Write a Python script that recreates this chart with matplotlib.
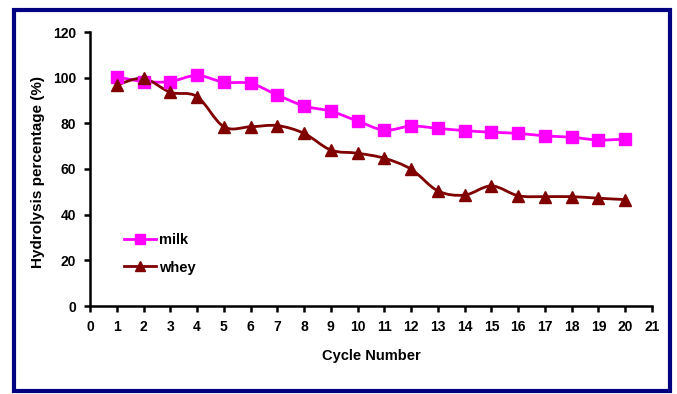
import matplotlib
matplotlib.use('Agg')
import matplotlib.pyplot as plt
from matplotlib.path import Path
from matplotlib.patches import PathPatch, Rectangle
from matplotlib.lines import Line2D
import numpy as np

cycles = list(range(1, 21))
milk = [100.4, 98.3, 98.3, 101.0, 98.0, 97.5, 92.4, 87.6, 85.3, 81.0,
        77.0, 78.8, 77.8, 76.8, 76.1, 75.6, 74.5, 73.9, 72.7, 73.1]
whey = [96.8, 99.7, 93.6, 91.7, 78.5, 78.5, 79.0, 75.6, 68.3, 66.9,
        64.7, 59.9, 50.4, 48.6, 52.6, 48.3, 47.9, 47.9, 47.2, 46.6]

x_ticks = list(range(0, 22))
y_ticks = [0, 20, 40, 60, 80, 100, 120]

fam = ['Liberation Sans', 'DejaVu Sans']


def smooth_path(xs, ys):
    # excel style smoothed line: bezier segments through the points
    pts = np.column_stack([np.asarray(xs, float), np.asarray(ys, float)])
    n = len(pts)
    verts = [pts[0]]
    codes = [Path.MOVETO]
    for i in range(n - 1):
        p0 = pts[max(i - 1, 0)]
        p1 = pts[i]
        p2 = pts[i + 1]
        p3 = pts[min(i + 2, n - 1)]
        verts += [p1 + (p2 - p0) / 6.0, p2 - (p3 - p1) / 6.0, p2]
        codes += [Path.CURVE4] * 3
    return Path(verts, codes)


fig = plt.figure(figsize=(6.77, 3.94), dpi=100)
ax = fig.add_axes([90 / 677, 1 - 306 / 394, 562 / 677, 274 / 394])

series = [(milk, '#FF00FF', 's', 'milk'), (whey, '#800000', '^', 'whey')]
handles = []
for vals, col, mk, name in series:
    ax.add_patch(PathPatch(smooth_path(cycles, vals), facecolor='none',
                           edgecolor=col, lw=2, zorder=2))
    ax.plot(cycles, vals, ls='none', marker=mk, ms=8, color=col,
            markeredgecolor=col, zorder=3)
    handles.append(Line2D([], [], color=col, lw=2, marker=mk, ms=6.5,
                          markeredgecolor=col, label=name))

ax.set_xlim(0, 21)
ax.set_ylim(0, 120)
ax.set_xticks(x_ticks)
ax.set_yticks(y_ticks)
ax.spines['top'].set_visible(False)
ax.spines['right'].set_visible(False)
for s in ['left', 'bottom']:
    ax.spines[s].set_linewidth(1.8)
ax.tick_params(direction='out', length=4, width=1.8, pad=6)
for lab in ax.get_xticklabels() + ax.get_yticklabels():
    lab.set_fontfamily(fam)
    lab.set_fontweight('bold')
    lab.set_fontsize(10)

ax.set_xlabel('Cycle Number', fontsize=10.5, fontweight='bold',
              family=fam, labelpad=11)
ax.set_ylabel('Hydrolysis percentage (%)', fontsize=11, fontweight='bold',
              family=fam, labelpad=18)
ax.yaxis.set_label_coords(-45 / 562, 0.49)

ax.legend(handles=handles, loc='center left',
          bbox_to_anchor=(0.05, 0.19), frameon=False,
          handlelength=2.2, handletextpad=0.2, labelspacing=0.9,
          borderaxespad=0,
          prop={'family': fam, 'weight': 'bold', 'size': 10.5})

fig.patches.append(Rectangle((13.5 / 677, 1 - 391 / 394), 656 / 677, 381 / 394,
                             transform=fig.transFigure, fill=False,
                             edgecolor='#000080', lw=3))

fig.savefig('out.png', dpi=100)
